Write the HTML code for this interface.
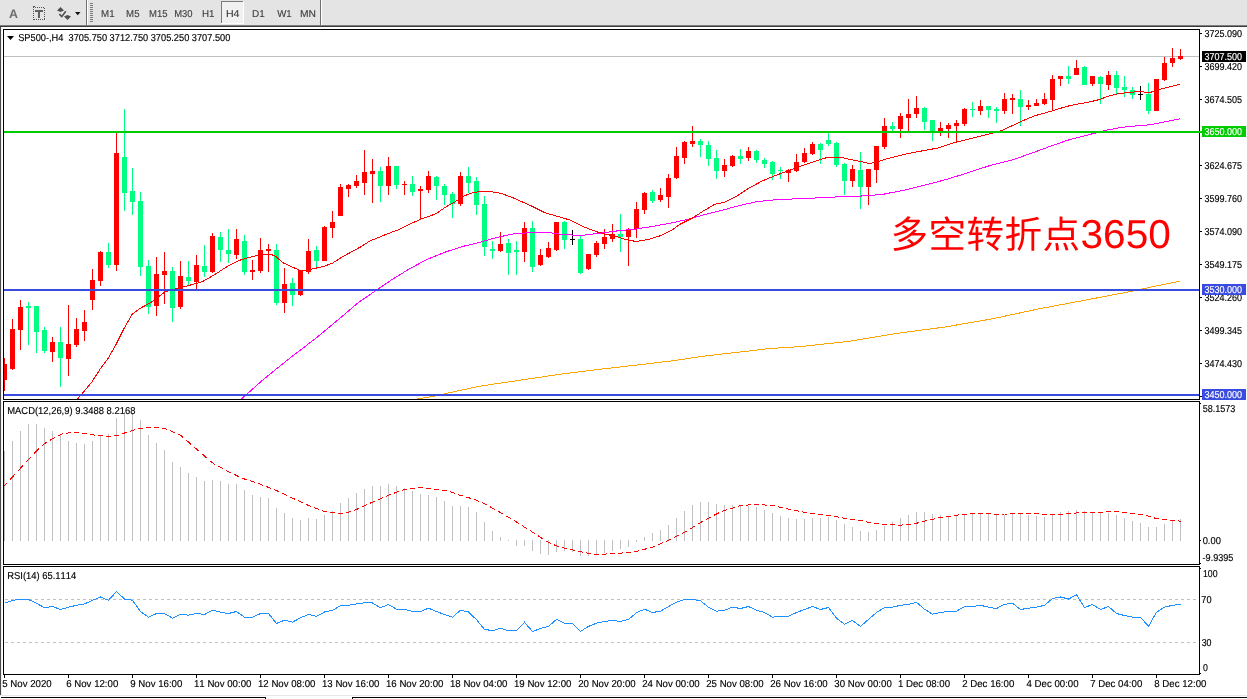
<!DOCTYPE html>
<html><head><meta charset="utf-8"><title>SP500 H4</title>
<style>html,body{margin:0;padding:0;background:#fff;width:1247px;height:699px;overflow:hidden;font-family:"Liberation Sans",sans-serif}svg text{text-rendering:geometricPrecision;font-kerning:none;font-family:"Liberation Sans",sans-serif;white-space:pre}</style>
</head><body><svg width="1247" height="699" viewBox="0 0 1247 699" font-family="Liberation Sans, sans-serif" style="position:absolute;left:0;top:0;will-change:transform"><rect x="0" y="0" width="1247" height="699" fill="#fff"/>
<rect x="0" y="0" width="1247" height="25" fill="#e4e4e4"/>
<rect x="0" y="25" width="1247" height="1" fill="#808080"/>
<rect x="0" y="26" width="1247" height="1" fill="#3a3a3a"/>
<rect x="0" y="27" width="1" height="668" fill="#4a4a4a"/>
<rect x="1" y="27" width="1" height="668" fill="#f0f0f0"/>
<rect x="0" y="695" width="1247" height="1" fill="#e8e8e8"/>
<rect x="1" y="697" width="265" height="1" fill="#000"/>
<rect x="265" y="697" width="1" height="2" fill="#000"/>
<rect x="352" y="697" width="895" height="1" fill="#000"/>
<rect x="352" y="697" width="1" height="2" fill="#000"/>
<text x="8.9" y="18" font-size="12.4" font-weight="bold" fill="#6c6c6c">A</text>
<g shape-rendering="crispEdges">
<rect x="33" y="7" width="1" height="1" fill="#555"/>
<rect x="34" y="19" width="1" height="1" fill="#555"/>
<rect x="35" y="7" width="1" height="1" fill="#555"/>
<rect x="36" y="19" width="1" height="1" fill="#555"/>
<rect x="37" y="7" width="1" height="1" fill="#555"/>
<rect x="38" y="19" width="1" height="1" fill="#555"/>
<rect x="39" y="7" width="1" height="1" fill="#555"/>
<rect x="40" y="19" width="1" height="1" fill="#555"/>
<rect x="41" y="7" width="1" height="1" fill="#555"/>
<rect x="42" y="19" width="1" height="1" fill="#555"/>
<rect x="43" y="7" width="1" height="1" fill="#555"/>
<rect x="44" y="19" width="1" height="1" fill="#555"/>
<rect x="33" y="7" width="1" height="1" fill="#555"/>
<rect x="33" y="9" width="1" height="1" fill="#555"/>
<rect x="33" y="11" width="1" height="1" fill="#555"/>
<rect x="33" y="13" width="1" height="1" fill="#555"/>
<rect x="33" y="15" width="1" height="1" fill="#555"/>
<rect x="33" y="17" width="1" height="1" fill="#555"/>
<rect x="33" y="19" width="1" height="1" fill="#555"/>
<rect x="44" y="8" width="1" height="1" fill="#555"/>
<rect x="44" y="10" width="1" height="1" fill="#555"/>
<rect x="44" y="12" width="1" height="1" fill="#555"/>
<rect x="44" y="14" width="1" height="1" fill="#555"/>
<rect x="44" y="16" width="1" height="1" fill="#555"/>
<rect x="44" y="18" width="1" height="1" fill="#555"/>
<rect x="33" y="6" width="2" height="1" fill="#555"/>
<rect x="35" y="10" width="8" height="2" fill="#606060"/>
<rect x="38" y="10" width="2" height="8" fill="#606060"/>
</g>
<path d="M57 10.5 L60.5 7 L64 10.5 L60.5 12 Z" fill="#505050"/>
<path d="M64 16.5 L67.5 15 L71 16.5 L67.5 20 Z" fill="#505050"/>
<path d="M59.3 14.2 L61.8 16.6 L65.8 11.3" fill="none" stroke="#505050" stroke-width="1.6"/>
<path d="M75 12 L80.5 12 L77.75 15.2 Z" fill="#111"/>
<rect x="86" y="0" width="1" height="25" fill="#6e6e6e"/>
<rect x="87" y="0" width="1" height="25" fill="#fff"/>
<rect x="90" y="3" width="3" height="1" fill="#7a7a7a"/>
<rect x="90" y="5" width="3" height="1" fill="#7a7a7a"/>
<rect x="90" y="7" width="3" height="1" fill="#7a7a7a"/>
<rect x="90" y="9" width="3" height="1" fill="#7a7a7a"/>
<rect x="90" y="11" width="3" height="1" fill="#7a7a7a"/>
<rect x="90" y="13" width="3" height="1" fill="#7a7a7a"/>
<rect x="90" y="15" width="3" height="1" fill="#7a7a7a"/>
<rect x="90" y="17" width="3" height="1" fill="#7a7a7a"/>
<rect x="90" y="19" width="3" height="1" fill="#7a7a7a"/>
<rect x="90" y="21" width="3" height="1" fill="#7a7a7a"/>
<rect x="222" y="2" width="21" height="21" fill="#f1f1f1"/>
<rect x="221" y="1" width="22" height="1" fill="#7a7a7a"/>
<rect x="221" y="1" width="1" height="22" fill="#7a7a7a"/>
<rect x="221" y="23" width="23" height="1" fill="#fff"/>
<rect x="243" y="1" width="1" height="23" fill="#fff"/>
<text transform="translate(101.10,17) scale(0.9696,1)" font-size="10" fill="#3c3c3c" stroke="#3c3c3c" stroke-width="0.12">M1</text>
<text transform="translate(126.11,17) scale(0.9643,1)" font-size="10" fill="#3c3c3c" stroke="#3c3c3c" stroke-width="0.12">M5</text>
<text transform="translate(149.12,17) scale(0.9499,1)" font-size="10" fill="#3c3c3c" stroke="#3c3c3c" stroke-width="0.12">M15</text>
<text transform="translate(174.13,17) scale(0.9429,1)" font-size="10" fill="#3c3c3c" stroke="#3c3c3c" stroke-width="0.12">M30</text>
<text transform="translate(201.90,17) scale(0.9761,1)" font-size="10" fill="#3c3c3c" stroke="#3c3c3c" stroke-width="0.12">H1</text>
<text transform="translate(225.93,17) scale(1.0626,1)" font-size="10" fill="#3c3c3c" stroke="#3c3c3c" stroke-width="0.12">H4</text>
<text transform="translate(251.99,17) scale(0.9935,1)" font-size="10" fill="#3c3c3c" stroke="#3c3c3c" stroke-width="0.12">D1</text>
<text transform="translate(277.16,17) scale(0.9677,1)" font-size="10" fill="#3c3c3c" stroke="#3c3c3c" stroke-width="0.12">W1</text>
<text transform="translate(300.06,17) scale(1.0276,1)" font-size="10" fill="#3c3c3c" stroke="#3c3c3c" stroke-width="0.12">MN</text>
<rect x="320" y="0" width="1" height="25" fill="#6e6e6e"/>
<rect x="321" y="0" width="1" height="25" fill="#fff"/>
<rect x="3" y="29" width="1197" height="1" fill="#000"/>
<rect x="3" y="29" width="1" height="371" fill="#000"/>
<rect x="3" y="399" width="1197" height="1" fill="#000"/>
<rect x="1199" y="29" width="1" height="371" fill="#000"/>
<rect x="3" y="401" width="1197" height="1" fill="#000"/>
<rect x="3" y="401" width="1" height="164" fill="#000"/>
<rect x="3" y="564" width="1197" height="1" fill="#000"/>
<rect x="1199" y="401" width="1" height="164" fill="#000"/>
<rect x="3" y="566" width="1197" height="1" fill="#000"/>
<rect x="3" y="566" width="1" height="109" fill="#000"/>
<rect x="3" y="674" width="1197" height="1" fill="#000"/>
<rect x="1199" y="566" width="1" height="109" fill="#000"/>
<defs><clipPath id="cm"><rect x="4" y="30" width="1195" height="369"/></clipPath></defs>
<g clip-path="url(#cm)" shape-rendering="crispEdges">
<rect x="4" y="56" width="1195" height="1" fill="#c0c0c0"/>
<rect x="4" y="358" width="1" height="33" fill="#ff0000"/>
<rect x="2" y="364" width="5" height="16" fill="#ff0000"/>
<rect x="12" y="319" width="1" height="51" fill="#ff0000"/>
<rect x="10" y="329" width="5" height="40" fill="#ff0000"/>
<rect x="20" y="300" width="1" height="50" fill="#ff0000"/>
<rect x="18" y="307" width="5" height="23" fill="#ff0000"/>
<rect x="28" y="302" width="1" height="43" fill="#00ff80"/>
<rect x="26" y="306" width="5" height="2" fill="#00ff80"/>
<rect x="36" y="306" width="1" height="47" fill="#00ff80"/>
<rect x="34" y="306" width="5" height="26" fill="#00ff80"/>
<rect x="44" y="327" width="1" height="26" fill="#00ff80"/>
<rect x="42" y="330" width="5" height="21" fill="#00ff80"/>
<rect x="52" y="337" width="1" height="25" fill="#ff0000"/>
<rect x="50" y="342" width="5" height="10" fill="#ff0000"/>
<rect x="60" y="327" width="1" height="60" fill="#00ff80"/>
<rect x="58" y="342" width="5" height="16" fill="#00ff80"/>
<rect x="68" y="305" width="1" height="71" fill="#ff0000"/>
<rect x="66" y="344" width="5" height="15" fill="#ff0000"/>
<rect x="76" y="318" width="1" height="29" fill="#ff0000"/>
<rect x="74" y="329" width="5" height="16" fill="#ff0000"/>
<rect x="84" y="310" width="1" height="31" fill="#ff0000"/>
<rect x="82" y="322" width="5" height="9" fill="#ff0000"/>
<rect x="92" y="269" width="1" height="41" fill="#ff0000"/>
<rect x="90" y="280" width="5" height="20" fill="#ff0000"/>
<rect x="100" y="251" width="1" height="35" fill="#ff0000"/>
<rect x="98" y="252" width="5" height="29" fill="#ff0000"/>
<rect x="108" y="243" width="1" height="25" fill="#00ff80"/>
<rect x="106" y="252" width="5" height="13" fill="#00ff80"/>
<rect x="116" y="133" width="1" height="138" fill="#ff0000"/>
<rect x="114" y="153" width="5" height="112" fill="#ff0000"/>
<rect x="124" y="109" width="1" height="102" fill="#00ff80"/>
<rect x="122" y="157" width="5" height="36" fill="#00ff80"/>
<rect x="132" y="168" width="1" height="47" fill="#00ff80"/>
<rect x="130" y="191" width="5" height="11" fill="#00ff80"/>
<rect x="140" y="192" width="1" height="84" fill="#00ff80"/>
<rect x="138" y="201" width="5" height="66" fill="#00ff80"/>
<rect x="148" y="260" width="1" height="54" fill="#00ff80"/>
<rect x="146" y="266" width="5" height="41" fill="#00ff80"/>
<rect x="156" y="257" width="1" height="59" fill="#ff0000"/>
<rect x="154" y="274" width="5" height="32" fill="#ff0000"/>
<rect x="164" y="252" width="1" height="52" fill="#ff0000"/>
<rect x="162" y="271" width="5" height="4" fill="#ff0000"/>
<rect x="172" y="267" width="1" height="55" fill="#00ff80"/>
<rect x="170" y="271" width="5" height="37" fill="#00ff80"/>
<rect x="180" y="261" width="1" height="48" fill="#ff0000"/>
<rect x="178" y="276" width="5" height="31" fill="#ff0000"/>
<rect x="188" y="261" width="1" height="25" fill="#00ff80"/>
<rect x="186" y="277" width="5" height="4" fill="#00ff80"/>
<rect x="196" y="255" width="1" height="34" fill="#ff0000"/>
<rect x="194" y="265" width="5" height="17" fill="#ff0000"/>
<rect x="204" y="245" width="1" height="32" fill="#00ff80"/>
<rect x="202" y="266" width="5" height="6" fill="#00ff80"/>
<rect x="212" y="233" width="1" height="40" fill="#ff0000"/>
<rect x="210" y="236" width="5" height="36" fill="#ff0000"/>
<rect x="220" y="232" width="1" height="30" fill="#00ff80"/>
<rect x="218" y="237" width="5" height="13" fill="#00ff80"/>
<rect x="228" y="229" width="1" height="34" fill="#00ff80"/>
<rect x="226" y="250" width="5" height="4" fill="#00ff80"/>
<rect x="236" y="229" width="1" height="30" fill="#ff0000"/>
<rect x="234" y="239" width="5" height="16" fill="#ff0000"/>
<rect x="244" y="235" width="1" height="40" fill="#00ff80"/>
<rect x="242" y="241" width="5" height="31" fill="#00ff80"/>
<rect x="252" y="260" width="1" height="20" fill="#ff0000"/>
<rect x="250" y="270" width="5" height="2" fill="#ff0000"/>
<rect x="260" y="238" width="1" height="35" fill="#ff0000"/>
<rect x="258" y="250" width="5" height="21" fill="#ff0000"/>
<rect x="268" y="244" width="1" height="28" fill="#ff0000"/>
<rect x="266" y="249" width="5" height="2" fill="#ff0000"/>
<rect x="276" y="244" width="1" height="61" fill="#00ff80"/>
<rect x="274" y="250" width="5" height="53" fill="#00ff80"/>
<rect x="284" y="268" width="1" height="45" fill="#ff0000"/>
<rect x="282" y="284" width="5" height="19" fill="#ff0000"/>
<rect x="292" y="278" width="1" height="28" fill="#00ff80"/>
<rect x="290" y="283" width="5" height="12" fill="#00ff80"/>
<rect x="300" y="270" width="1" height="26" fill="#ff0000"/>
<rect x="298" y="270" width="5" height="25" fill="#ff0000"/>
<rect x="308" y="239" width="1" height="35" fill="#ff0000"/>
<rect x="306" y="251" width="5" height="21" fill="#ff0000"/>
<rect x="316" y="246" width="1" height="22" fill="#00ff80"/>
<rect x="314" y="250" width="5" height="11" fill="#00ff80"/>
<rect x="324" y="226" width="1" height="35" fill="#ff0000"/>
<rect x="322" y="227" width="5" height="34" fill="#ff0000"/>
<rect x="332" y="211" width="1" height="27" fill="#ff0000"/>
<rect x="330" y="222" width="5" height="6" fill="#ff0000"/>
<rect x="340" y="184" width="1" height="32" fill="#ff0000"/>
<rect x="338" y="187" width="5" height="29" fill="#ff0000"/>
<rect x="348" y="184" width="1" height="13" fill="#ff0000"/>
<rect x="346" y="185" width="5" height="4" fill="#ff0000"/>
<rect x="356" y="175" width="1" height="13" fill="#ff0000"/>
<rect x="354" y="181" width="5" height="5" fill="#ff0000"/>
<rect x="364" y="150" width="1" height="45" fill="#ff0000"/>
<rect x="362" y="172" width="5" height="11" fill="#ff0000"/>
<rect x="372" y="159" width="1" height="44" fill="#ff0000"/>
<rect x="370" y="171" width="5" height="3" fill="#ff0000"/>
<rect x="380" y="167" width="1" height="35" fill="#00ff80"/>
<rect x="378" y="171" width="5" height="15" fill="#00ff80"/>
<rect x="388" y="157" width="1" height="38" fill="#ff0000"/>
<rect x="386" y="166" width="5" height="20" fill="#ff0000"/>
<rect x="396" y="166" width="1" height="23" fill="#00ff80"/>
<rect x="394" y="166" width="5" height="19" fill="#00ff80"/>
<rect x="404" y="181" width="1" height="14" fill="#ff0000"/>
<rect x="402" y="184" width="5" height="1" fill="#ff0000"/>
<rect x="412" y="176" width="1" height="20" fill="#00ff80"/>
<rect x="410" y="184" width="5" height="8" fill="#00ff80"/>
<rect x="420" y="186" width="1" height="33" fill="#ff0000"/>
<rect x="418" y="189" width="5" height="2" fill="#ff0000"/>
<rect x="428" y="171" width="1" height="22" fill="#ff0000"/>
<rect x="426" y="176" width="5" height="14" fill="#ff0000"/>
<rect x="436" y="176" width="1" height="24" fill="#00ff80"/>
<rect x="434" y="177" width="5" height="9" fill="#00ff80"/>
<rect x="444" y="184" width="1" height="21" fill="#00ff80"/>
<rect x="442" y="186" width="5" height="9" fill="#00ff80"/>
<rect x="452" y="192" width="1" height="26" fill="#00ff80"/>
<rect x="450" y="194" width="5" height="10" fill="#00ff80"/>
<rect x="460" y="172" width="1" height="34" fill="#ff0000"/>
<rect x="458" y="176" width="5" height="28" fill="#ff0000"/>
<rect x="468" y="167" width="1" height="26" fill="#00ff80"/>
<rect x="466" y="176" width="5" height="7" fill="#00ff80"/>
<rect x="476" y="177" width="1" height="38" fill="#00ff80"/>
<rect x="474" y="181" width="5" height="24" fill="#00ff80"/>
<rect x="484" y="196" width="1" height="60" fill="#00ff80"/>
<rect x="482" y="204" width="5" height="43" fill="#00ff80"/>
<rect x="492" y="241" width="1" height="18" fill="#00ff80"/>
<rect x="490" y="249" width="5" height="2" fill="#00ff80"/>
<rect x="500" y="232" width="1" height="20" fill="#ff0000"/>
<rect x="498" y="244" width="5" height="7" fill="#ff0000"/>
<rect x="508" y="239" width="1" height="36" fill="#00ff80"/>
<rect x="506" y="243" width="5" height="10" fill="#00ff80"/>
<rect x="516" y="241" width="1" height="34" fill="#00ff80"/>
<rect x="514" y="250" width="5" height="2" fill="#00ff80"/>
<rect x="524" y="222" width="1" height="40" fill="#ff0000"/>
<rect x="522" y="228" width="5" height="24" fill="#ff0000"/>
<rect x="532" y="221" width="1" height="51" fill="#00ff80"/>
<rect x="530" y="228" width="5" height="39" fill="#00ff80"/>
<rect x="540" y="249" width="1" height="17" fill="#ff0000"/>
<rect x="538" y="255" width="5" height="10" fill="#ff0000"/>
<rect x="548" y="242" width="1" height="16" fill="#ff0000"/>
<rect x="546" y="248" width="5" height="9" fill="#ff0000"/>
<rect x="556" y="222" width="1" height="29" fill="#ff0000"/>
<rect x="554" y="222" width="5" height="28" fill="#ff0000"/>
<rect x="564" y="221" width="1" height="28" fill="#00ff80"/>
<rect x="562" y="222" width="5" height="18" fill="#00ff80"/>
<rect x="572" y="230" width="1" height="15" fill="#000"/>
<rect x="570" y="239" width="5" height="1" fill="#000"/>
<rect x="580" y="236" width="1" height="38" fill="#00ff80"/>
<rect x="578" y="239" width="5" height="34" fill="#00ff80"/>
<rect x="588" y="254" width="1" height="16" fill="#ff0000"/>
<rect x="586" y="254" width="5" height="15" fill="#ff0000"/>
<rect x="596" y="241" width="1" height="16" fill="#ff0000"/>
<rect x="594" y="243" width="5" height="12" fill="#ff0000"/>
<rect x="604" y="229" width="1" height="20" fill="#ff0000"/>
<rect x="602" y="237" width="5" height="7" fill="#ff0000"/>
<rect x="612" y="224" width="1" height="18" fill="#ff0000"/>
<rect x="610" y="234" width="5" height="5" fill="#ff0000"/>
<rect x="620" y="214" width="1" height="38" fill="#00ff80"/>
<rect x="618" y="234" width="5" height="3" fill="#00ff80"/>
<rect x="628" y="228" width="1" height="38" fill="#ff0000"/>
<rect x="626" y="229" width="5" height="8" fill="#ff0000"/>
<rect x="636" y="202" width="1" height="36" fill="#ff0000"/>
<rect x="634" y="209" width="5" height="20" fill="#ff0000"/>
<rect x="644" y="192" width="1" height="22" fill="#ff0000"/>
<rect x="642" y="193" width="5" height="17" fill="#ff0000"/>
<rect x="652" y="190" width="1" height="13" fill="#00ff80"/>
<rect x="650" y="192" width="5" height="9" fill="#00ff80"/>
<rect x="660" y="188" width="1" height="14" fill="#ff0000"/>
<rect x="658" y="195" width="5" height="5" fill="#ff0000"/>
<rect x="668" y="174" width="1" height="34" fill="#ff0000"/>
<rect x="666" y="178" width="5" height="19" fill="#ff0000"/>
<rect x="676" y="147" width="1" height="32" fill="#ff0000"/>
<rect x="674" y="156" width="5" height="22" fill="#ff0000"/>
<rect x="684" y="141" width="1" height="23" fill="#ff0000"/>
<rect x="682" y="142" width="5" height="16" fill="#ff0000"/>
<rect x="692" y="126" width="1" height="21" fill="#ff0000"/>
<rect x="690" y="141" width="5" height="3" fill="#ff0000"/>
<rect x="700" y="139" width="1" height="18" fill="#00ff80"/>
<rect x="698" y="141" width="5" height="4" fill="#00ff80"/>
<rect x="708" y="141" width="1" height="25" fill="#00ff80"/>
<rect x="706" y="145" width="5" height="14" fill="#00ff80"/>
<rect x="716" y="150" width="1" height="29" fill="#00ff80"/>
<rect x="714" y="158" width="5" height="13" fill="#00ff80"/>
<rect x="724" y="159" width="1" height="18" fill="#ff0000"/>
<rect x="722" y="165" width="5" height="6" fill="#ff0000"/>
<rect x="732" y="155" width="1" height="12" fill="#ff0000"/>
<rect x="730" y="156" width="5" height="10" fill="#ff0000"/>
<rect x="740" y="149" width="1" height="15" fill="#00ff80"/>
<rect x="738" y="156" width="5" height="3" fill="#00ff80"/>
<rect x="748" y="147" width="1" height="14" fill="#ff0000"/>
<rect x="746" y="151" width="5" height="7" fill="#ff0000"/>
<rect x="756" y="150" width="1" height="13" fill="#00ff80"/>
<rect x="754" y="151" width="5" height="9" fill="#00ff80"/>
<rect x="764" y="158" width="1" height="10" fill="#00ff80"/>
<rect x="762" y="160" width="5" height="4" fill="#00ff80"/>
<rect x="772" y="161" width="1" height="19" fill="#00ff80"/>
<rect x="770" y="162" width="5" height="12" fill="#00ff80"/>
<rect x="780" y="167" width="1" height="12" fill="#00ff80"/>
<rect x="778" y="170" width="5" height="1" fill="#00ff80"/>
<rect x="788" y="169" width="1" height="13" fill="#ff0000"/>
<rect x="786" y="170" width="5" height="3" fill="#ff0000"/>
<rect x="796" y="154" width="1" height="18" fill="#ff0000"/>
<rect x="794" y="162" width="5" height="9" fill="#ff0000"/>
<rect x="804" y="148" width="1" height="15" fill="#ff0000"/>
<rect x="802" y="153" width="5" height="9" fill="#ff0000"/>
<rect x="812" y="142" width="1" height="13" fill="#ff0000"/>
<rect x="810" y="144" width="5" height="10" fill="#ff0000"/>
<rect x="820" y="143" width="1" height="21" fill="#00ff80"/>
<rect x="818" y="144" width="5" height="6" fill="#00ff80"/>
<rect x="828" y="133" width="1" height="13" fill="#00ff80"/>
<rect x="826" y="140" width="5" height="4" fill="#00ff80"/>
<rect x="836" y="142" width="1" height="25" fill="#00ff80"/>
<rect x="834" y="143" width="5" height="22" fill="#00ff80"/>
<rect x="844" y="163" width="1" height="32" fill="#00ff80"/>
<rect x="842" y="164" width="5" height="17" fill="#00ff80"/>
<rect x="852" y="165" width="1" height="22" fill="#ff0000"/>
<rect x="850" y="169" width="5" height="12" fill="#ff0000"/>
<rect x="860" y="152" width="1" height="57" fill="#00ff80"/>
<rect x="858" y="170" width="5" height="17" fill="#00ff80"/>
<rect x="868" y="169" width="1" height="36" fill="#ff0000"/>
<rect x="866" y="169" width="5" height="18" fill="#ff0000"/>
<rect x="876" y="146" width="1" height="37" fill="#ff0000"/>
<rect x="874" y="146" width="5" height="24" fill="#ff0000"/>
<rect x="884" y="118" width="1" height="31" fill="#ff0000"/>
<rect x="882" y="126" width="5" height="21" fill="#ff0000"/>
<rect x="892" y="122" width="1" height="9" fill="#00ff80"/>
<rect x="890" y="126" width="5" height="3" fill="#00ff80"/>
<rect x="900" y="113" width="1" height="25" fill="#ff0000"/>
<rect x="898" y="116" width="5" height="13" fill="#ff0000"/>
<rect x="908" y="99" width="1" height="32" fill="#ff0000"/>
<rect x="906" y="114" width="5" height="4" fill="#ff0000"/>
<rect x="916" y="96" width="1" height="22" fill="#ff0000"/>
<rect x="914" y="108" width="5" height="6" fill="#ff0000"/>
<rect x="924" y="107" width="1" height="23" fill="#00ff80"/>
<rect x="922" y="108" width="5" height="14" fill="#00ff80"/>
<rect x="932" y="120" width="1" height="21" fill="#00ff80"/>
<rect x="930" y="120" width="5" height="11" fill="#00ff80"/>
<rect x="940" y="122" width="1" height="14" fill="#ff0000"/>
<rect x="938" y="128" width="5" height="3" fill="#ff0000"/>
<rect x="948" y="123" width="1" height="15" fill="#ff0000"/>
<rect x="946" y="125" width="5" height="4" fill="#ff0000"/>
<rect x="956" y="120" width="1" height="22" fill="#ff0000"/>
<rect x="954" y="123" width="5" height="3" fill="#ff0000"/>
<rect x="964" y="108" width="1" height="18" fill="#ff0000"/>
<rect x="962" y="109" width="5" height="15" fill="#ff0000"/>
<rect x="972" y="102" width="1" height="15" fill="#00ff80"/>
<rect x="970" y="109" width="5" height="1" fill="#00ff80"/>
<rect x="980" y="100" width="1" height="15" fill="#ff0000"/>
<rect x="978" y="106" width="5" height="5" fill="#ff0000"/>
<rect x="988" y="106" width="1" height="12" fill="#00ff80"/>
<rect x="986" y="106" width="5" height="4" fill="#00ff80"/>
<rect x="996" y="107" width="1" height="16" fill="#00ff80"/>
<rect x="994" y="109" width="5" height="2" fill="#00ff80"/>
<rect x="1004" y="93" width="1" height="21" fill="#ff0000"/>
<rect x="1002" y="99" width="5" height="12" fill="#ff0000"/>
<rect x="1012" y="94" width="1" height="20" fill="#ff0000"/>
<rect x="1010" y="98" width="5" height="2" fill="#ff0000"/>
<rect x="1020" y="90" width="1" height="36" fill="#00ff80"/>
<rect x="1018" y="99" width="5" height="8" fill="#00ff80"/>
<rect x="1028" y="100" width="1" height="10" fill="#ff0000"/>
<rect x="1026" y="105" width="5" height="2" fill="#ff0000"/>
<rect x="1036" y="99" width="1" height="7" fill="#ff0000"/>
<rect x="1034" y="103" width="5" height="3" fill="#ff0000"/>
<rect x="1044" y="93" width="1" height="12" fill="#ff0000"/>
<rect x="1042" y="99" width="5" height="5" fill="#ff0000"/>
<rect x="1052" y="75" width="1" height="35" fill="#ff0000"/>
<rect x="1050" y="79" width="5" height="21" fill="#ff0000"/>
<rect x="1060" y="76" width="1" height="10" fill="#ff0000"/>
<rect x="1058" y="76" width="5" height="3" fill="#ff0000"/>
<rect x="1068" y="66" width="1" height="18" fill="#00ff80"/>
<rect x="1066" y="76" width="5" height="3" fill="#00ff80"/>
<rect x="1076" y="60" width="1" height="15" fill="#ff0000"/>
<rect x="1074" y="68" width="5" height="7" fill="#ff0000"/>
<rect x="1084" y="66" width="1" height="19" fill="#00ff80"/>
<rect x="1082" y="67" width="5" height="18" fill="#00ff80"/>
<rect x="1092" y="76" width="1" height="10" fill="#ff0000"/>
<rect x="1090" y="76" width="5" height="8" fill="#ff0000"/>
<rect x="1100" y="76" width="1" height="28" fill="#00ff80"/>
<rect x="1098" y="77" width="5" height="7" fill="#00ff80"/>
<rect x="1108" y="71" width="1" height="19" fill="#ff0000"/>
<rect x="1106" y="75" width="5" height="10" fill="#ff0000"/>
<rect x="1116" y="71" width="1" height="23" fill="#00ff80"/>
<rect x="1114" y="75" width="5" height="13" fill="#00ff80"/>
<rect x="1124" y="76" width="1" height="21" fill="#00ff80"/>
<rect x="1122" y="87" width="5" height="3" fill="#00ff80"/>
<rect x="1132" y="87" width="1" height="12" fill="#00ff80"/>
<rect x="1130" y="90" width="5" height="5" fill="#00ff80"/>
<rect x="1140" y="86" width="1" height="14" fill="#000"/>
<rect x="1138" y="94" width="5" height="1" fill="#000"/>
<rect x="1148" y="83" width="1" height="31" fill="#00ff80"/>
<rect x="1146" y="94" width="5" height="17" fill="#00ff80"/>
<rect x="1156" y="79" width="1" height="32" fill="#ff0000"/>
<rect x="1154" y="79" width="5" height="32" fill="#ff0000"/>
<rect x="1164" y="57" width="1" height="24" fill="#ff0000"/>
<rect x="1162" y="63" width="5" height="17" fill="#ff0000"/>
<rect x="1172" y="48" width="1" height="19" fill="#ff0000"/>
<rect x="1170" y="58" width="5" height="5" fill="#ff0000"/>
<rect x="1180" y="49" width="1" height="11" fill="#ff0000"/>
<rect x="1178" y="56" width="5" height="3" fill="#ff0000"/>
<polyline points="416.0,399.2 434.2,396.2 448.1,393.0 480.2,386.1 528.3,379.0 560.4,374.2 598.9,369.4 640.6,364.6 672.7,360.8 704.7,356.0 736.8,352.4 768.9,348.6 800.0,346.6 848.1,341.5 896.2,333.5 944.3,327.1 992.5,318.8 1040.6,308.5 1088.7,299.5 1133.6,290.9 1152.8,286.7 1180.1,281.2" fill="none" stroke="#ffa500" stroke-width="1"/>
<polyline points="241.0,399.0 242.0,398.4 264.3,378.7 290.0,358.0 315.8,338.3 341.5,316.9 358.7,302.3 375.9,290.6 391.3,280.0 410.0,268.5 427.3,259.3 444.4,252.4 461.6,246.7 478.8,242.6 497.2,237.3 514.3,233.8 531.5,232.5 548.6,232.6 565.8,234.9 583.0,235.2 600.0,233.2 617.3,230.9 634.5,229.2 651.6,226.6 668.8,223.5 687.2,219.5 704.3,214.7 721.5,210.4 738.6,205.8 755.8,201.8 776.4,199.6 807.3,198.4 841.6,196.7 867.4,195.8 884.0,194.1 905.0,190.0 925.0,185.0 947.2,179.3 966.1,173.3 990.1,165.5 1012.4,159.9 1033.0,152.7 1050.2,146.3 1067.4,140.3 1084.0,136.0 1090.0,134.4 1107.2,130.0 1122.9,127.2 1137.2,125.8 1151.5,124.6 1163.0,122.2 1179.8,118.8" fill="none" stroke="#ff00ff" stroke-width="1"/>
<polyline points="77.5,399.0 84.0,391.5 92.0,381.7 100.0,369.3 108.0,358.6 116.0,344.6 124.0,328.5 132.0,314.5 140.0,308.5 152.6,301.4 164.7,292.0 176.7,288.5 187.0,286.0 202.4,281.7 214.4,274.8 226.4,267.0 238.5,260.6 248.8,257.6 259.0,255.0 268.5,254.2 274.5,255.4 283.0,262.8 292.6,267.2 301.2,271.0 308.9,269.8 316.6,268.0 325.2,265.9 332.9,262.9 342.3,256.9 352.6,251.3 361.2,246.6 369.8,241.0 378.4,237.6 386.0,234.4 399.8,229.2 410.0,224.0 420.4,219.3 435.9,213.8 444.4,207.8 454.7,202.0 463.3,196.3 471.9,192.9 482.2,191.1 492.5,192.0 500.6,193.2 514.3,198.3 531.5,206.0 545.2,212.9 557.2,216.3 569.2,219.8 583.0,226.6 596.7,231.8 607.0,234.4 617.3,236.9 625.9,239.5 634.5,241.2 641.3,240.9 651.6,238.6 661.9,235.2 672.2,230.0 680.3,224.1 692.3,218.1 704.3,210.4 714.6,204.4 724.9,202.2 738.6,195.0 748.9,188.1 762.7,180.7 776.4,175.2 790.1,170.1 803.9,164.9 817.6,160.6 827.9,157.2 839.9,157.2 851.9,159.8 860.5,161.5 869.1,163.5 875.9,162.3 887.2,158.7 904.3,154.4 921.5,151.0 938.6,147.9 950.7,143.7 966.1,139.8 979.8,136.4 993.6,132.9 1002.1,130.4 1012.4,125.6 1024.5,120.0 1034.8,115.8 1045.0,112.9 1055.3,110.0 1065.6,106.7 1075.9,104.3 1088.6,102.2 1100.0,99.4 1107.2,96.5 1117.2,93.9 1128.6,92.5 1140.0,91.5 1148.7,92.5 1154.4,91.5 1160.0,89.3 1168.7,87.2 1179.8,84.3" fill="none" stroke="#ff0000" stroke-width="1"/>
</g>
<rect x="4" y="131" width="1198" height="2" fill="#00cc00"/>
<rect x="4" y="289" width="1195" height="2" fill="#3a4be0"/>
<rect x="4" y="394" width="1195" height="2" fill="#3a4be0"/>
<g shape-rendering="crispEdges">
<rect x="1200" y="33" width="2" height="1" fill="#000"/>
<rect x="1200" y="66" width="2" height="1" fill="#000"/>
<rect x="1200" y="99" width="2" height="1" fill="#000"/>
<rect x="1200" y="165" width="2" height="1" fill="#000"/>
<rect x="1200" y="198" width="2" height="1" fill="#000"/>
<rect x="1200" y="231" width="2" height="1" fill="#000"/>
<rect x="1200" y="264" width="2" height="1" fill="#000"/>
<rect x="1200" y="297" width="2" height="1" fill="#000"/>
<rect x="1200" y="330" width="2" height="1" fill="#000"/>
<rect x="1200" y="363" width="2" height="1" fill="#000"/>
<rect x="1200" y="396" width="2" height="1" fill="#000"/>
</g>
<text transform="translate(1204.46,37) scale(0.9014,1)" font-size="10" fill="#000" stroke="#000" stroke-width="0.15">3725.090</text>
<text transform="translate(1204.46,70) scale(0.9014,1)" font-size="10" fill="#000" stroke="#000" stroke-width="0.15">3699.420</text>
<text transform="translate(1204.46,103) scale(0.9020,1)" font-size="10" fill="#000" stroke="#000" stroke-width="0.15">3674.505</text>
<text transform="translate(1204.46,169) scale(0.9020,1)" font-size="10" fill="#000" stroke="#000" stroke-width="0.15">3624.675</text>
<text transform="translate(1204.46,202) scale(0.9014,1)" font-size="10" fill="#000" stroke="#000" stroke-width="0.15">3599.760</text>
<text transform="translate(1204.46,235) scale(0.9014,1)" font-size="10" fill="#000" stroke="#000" stroke-width="0.15">3574.090</text>
<text transform="translate(1204.46,268) scale(0.9020,1)" font-size="10" fill="#000" stroke="#000" stroke-width="0.15">3549.175</text>
<text transform="translate(1204.46,301) scale(0.9014,1)" font-size="10" fill="#000" stroke="#000" stroke-width="0.15">3524.260</text>
<text transform="translate(1204.46,334) scale(0.9020,1)" font-size="10" fill="#000" stroke="#000" stroke-width="0.15">3499.345</text>
<text transform="translate(1204.46,367) scale(0.9014,1)" font-size="10" fill="#000" stroke="#000" stroke-width="0.15">3474.430</text>
<rect x="1202" y="284" width="44" height="11" fill="#3a4be0"/>
<text transform="translate(1204.46,293) scale(0.9014,1)" font-size="10" fill="#fff" stroke="#fff" stroke-width="0.15">3530.000</text>
<rect x="1202" y="389" width="44" height="11" fill="#3a4be0"/>
<text transform="translate(1204.46,398) scale(0.9014,1)" font-size="10" fill="#fff" stroke="#fff" stroke-width="0.15">3450.000</text>
<rect x="1202" y="126" width="44" height="11" fill="#00cc00"/>
<text transform="translate(1204.46,135) scale(0.9014,1)" font-size="10" fill="#fff" stroke="#fff" stroke-width="0.15">3650.000</text>
<rect x="1202" y="51" width="44" height="11" fill="#000"/>
<text transform="translate(1204.46,60) scale(0.9014,1)" font-size="10" fill="#fff" stroke="#fff" stroke-width="0.15">3707.500</text>
<path d="M7 36 L14 36 L10.5 40 Z" fill="#000"/>
<text transform="translate(18.18,41) scale(0.9240,1)" font-size="10" fill="#000" stroke="#000" stroke-width="0.15">SP500-,H4  3705.750 3712.750 3705.250 3707.500</text>
<g shape-rendering="crispEdges">
<rect x="4" y="451" width="1" height="90" fill="#c0c0c0"/>
<rect x="12" y="441" width="1" height="100" fill="#c0c0c0"/>
<rect x="20" y="431" width="1" height="110" fill="#c0c0c0"/>
<rect x="28" y="424" width="1" height="117" fill="#c0c0c0"/>
<rect x="36" y="424" width="1" height="117" fill="#c0c0c0"/>
<rect x="44" y="428" width="1" height="113" fill="#c0c0c0"/>
<rect x="52" y="431" width="1" height="110" fill="#c0c0c0"/>
<rect x="60" y="435" width="1" height="106" fill="#c0c0c0"/>
<rect x="68" y="441" width="1" height="100" fill="#c0c0c0"/>
<rect x="76" y="443" width="1" height="98" fill="#c0c0c0"/>
<rect x="84" y="444" width="1" height="97" fill="#c0c0c0"/>
<rect x="92" y="441" width="1" height="100" fill="#c0c0c0"/>
<rect x="100" y="436" width="1" height="105" fill="#c0c0c0"/>
<rect x="108" y="434" width="1" height="107" fill="#c0c0c0"/>
<rect x="116" y="418" width="1" height="123" fill="#c0c0c0"/>
<rect x="124" y="412" width="1" height="129" fill="#c0c0c0"/>
<rect x="132" y="413" width="1" height="128" fill="#c0c0c0"/>
<rect x="140" y="420" width="1" height="121" fill="#c0c0c0"/>
<rect x="148" y="435" width="1" height="106" fill="#c0c0c0"/>
<rect x="156" y="443" width="1" height="98" fill="#c0c0c0"/>
<rect x="164" y="450" width="1" height="91" fill="#c0c0c0"/>
<rect x="172" y="462" width="1" height="79" fill="#c0c0c0"/>
<rect x="180" y="467" width="1" height="74" fill="#c0c0c0"/>
<rect x="188" y="473" width="1" height="68" fill="#c0c0c0"/>
<rect x="196" y="477" width="1" height="64" fill="#c0c0c0"/>
<rect x="204" y="481" width="1" height="60" fill="#c0c0c0"/>
<rect x="212" y="480" width="1" height="61" fill="#c0c0c0"/>
<rect x="220" y="481" width="1" height="60" fill="#c0c0c0"/>
<rect x="228" y="484" width="1" height="57" fill="#c0c0c0"/>
<rect x="236" y="484" width="1" height="57" fill="#c0c0c0"/>
<rect x="244" y="490" width="1" height="51" fill="#c0c0c0"/>
<rect x="252" y="495" width="1" height="46" fill="#c0c0c0"/>
<rect x="260" y="497" width="1" height="44" fill="#c0c0c0"/>
<rect x="268" y="498" width="1" height="43" fill="#c0c0c0"/>
<rect x="276" y="508" width="1" height="33" fill="#c0c0c0"/>
<rect x="284" y="513" width="1" height="28" fill="#c0c0c0"/>
<rect x="292" y="518" width="1" height="23" fill="#c0c0c0"/>
<rect x="300" y="520" width="1" height="21" fill="#c0c0c0"/>
<rect x="308" y="518" width="1" height="23" fill="#c0c0c0"/>
<rect x="316" y="519" width="1" height="22" fill="#c0c0c0"/>
<rect x="324" y="515" width="1" height="26" fill="#c0c0c0"/>
<rect x="332" y="511" width="1" height="30" fill="#c0c0c0"/>
<rect x="340" y="503" width="1" height="38" fill="#c0c0c0"/>
<rect x="348" y="498" width="1" height="43" fill="#c0c0c0"/>
<rect x="356" y="493" width="1" height="48" fill="#c0c0c0"/>
<rect x="364" y="489" width="1" height="52" fill="#c0c0c0"/>
<rect x="372" y="486" width="1" height="55" fill="#c0c0c0"/>
<rect x="380" y="486" width="1" height="55" fill="#c0c0c0"/>
<rect x="388" y="484" width="1" height="57" fill="#c0c0c0"/>
<rect x="396" y="486" width="1" height="55" fill="#c0c0c0"/>
<rect x="404" y="488" width="1" height="53" fill="#c0c0c0"/>
<rect x="412" y="491" width="1" height="50" fill="#c0c0c0"/>
<rect x="420" y="494" width="1" height="47" fill="#c0c0c0"/>
<rect x="428" y="495" width="1" height="46" fill="#c0c0c0"/>
<rect x="436" y="497" width="1" height="44" fill="#c0c0c0"/>
<rect x="444" y="501" width="1" height="40" fill="#c0c0c0"/>
<rect x="452" y="506" width="1" height="35" fill="#c0c0c0"/>
<rect x="460" y="506" width="1" height="35" fill="#c0c0c0"/>
<rect x="468" y="507" width="1" height="34" fill="#c0c0c0"/>
<rect x="476" y="512" width="1" height="29" fill="#c0c0c0"/>
<rect x="484" y="522" width="1" height="19" fill="#c0c0c0"/>
<rect x="492" y="531" width="1" height="10" fill="#c0c0c0"/>
<rect x="500" y="537" width="1" height="4" fill="#c0c0c0"/>
<rect x="508" y="540" width="1" height="1" fill="#c0c0c0"/>
<rect x="516" y="540" width="1" height="6" fill="#c0c0c0"/>
<rect x="524" y="540" width="1" height="6" fill="#c0c0c0"/>
<rect x="532" y="540" width="1" height="11" fill="#c0c0c0"/>
<rect x="540" y="540" width="1" height="14" fill="#c0c0c0"/>
<rect x="548" y="540" width="1" height="15" fill="#c0c0c0"/>
<rect x="556" y="540" width="1" height="12" fill="#c0c0c0"/>
<rect x="564" y="540" width="1" height="11" fill="#c0c0c0"/>
<rect x="572" y="540" width="1" height="12" fill="#c0c0c0"/>
<rect x="580" y="540" width="1" height="16" fill="#c0c0c0"/>
<rect x="588" y="540" width="1" height="16" fill="#c0c0c0"/>
<rect x="596" y="540" width="1" height="14" fill="#c0c0c0"/>
<rect x="604" y="540" width="1" height="13" fill="#c0c0c0"/>
<rect x="612" y="540" width="1" height="11" fill="#c0c0c0"/>
<rect x="620" y="540" width="1" height="9" fill="#c0c0c0"/>
<rect x="628" y="540" width="1" height="7" fill="#c0c0c0"/>
<rect x="636" y="540" width="1" height="2" fill="#c0c0c0"/>
<rect x="644" y="537" width="1" height="4" fill="#c0c0c0"/>
<rect x="652" y="533" width="1" height="8" fill="#c0c0c0"/>
<rect x="660" y="530" width="1" height="11" fill="#c0c0c0"/>
<rect x="668" y="525" width="1" height="16" fill="#c0c0c0"/>
<rect x="676" y="518" width="1" height="23" fill="#c0c0c0"/>
<rect x="684" y="511" width="1" height="30" fill="#c0c0c0"/>
<rect x="692" y="505" width="1" height="36" fill="#c0c0c0"/>
<rect x="700" y="502" width="1" height="39" fill="#c0c0c0"/>
<rect x="708" y="502" width="1" height="39" fill="#c0c0c0"/>
<rect x="716" y="504" width="1" height="37" fill="#c0c0c0"/>
<rect x="724" y="505" width="1" height="36" fill="#c0c0c0"/>
<rect x="732" y="505" width="1" height="36" fill="#c0c0c0"/>
<rect x="740" y="506" width="1" height="35" fill="#c0c0c0"/>
<rect x="748" y="506" width="1" height="35" fill="#c0c0c0"/>
<rect x="756" y="507" width="1" height="34" fill="#c0c0c0"/>
<rect x="764" y="510" width="1" height="31" fill="#c0c0c0"/>
<rect x="772" y="513" width="1" height="28" fill="#c0c0c0"/>
<rect x="780" y="516" width="1" height="25" fill="#c0c0c0"/>
<rect x="788" y="518" width="1" height="23" fill="#c0c0c0"/>
<rect x="796" y="519" width="1" height="22" fill="#c0c0c0"/>
<rect x="804" y="519" width="1" height="22" fill="#c0c0c0"/>
<rect x="812" y="518" width="1" height="23" fill="#c0c0c0"/>
<rect x="820" y="518" width="1" height="23" fill="#c0c0c0"/>
<rect x="828" y="517" width="1" height="24" fill="#c0c0c0"/>
<rect x="836" y="520" width="1" height="21" fill="#c0c0c0"/>
<rect x="844" y="524" width="1" height="17" fill="#c0c0c0"/>
<rect x="852" y="527" width="1" height="14" fill="#c0c0c0"/>
<rect x="860" y="531" width="1" height="10" fill="#c0c0c0"/>
<rect x="868" y="532" width="1" height="9" fill="#c0c0c0"/>
<rect x="876" y="530" width="1" height="11" fill="#c0c0c0"/>
<rect x="884" y="526" width="1" height="15" fill="#c0c0c0"/>
<rect x="892" y="522" width="1" height="19" fill="#c0c0c0"/>
<rect x="900" y="518" width="1" height="23" fill="#c0c0c0"/>
<rect x="908" y="515" width="1" height="26" fill="#c0c0c0"/>
<rect x="916" y="512" width="1" height="29" fill="#c0c0c0"/>
<rect x="924" y="512" width="1" height="29" fill="#c0c0c0"/>
<rect x="932" y="514" width="1" height="27" fill="#c0c0c0"/>
<rect x="940" y="515" width="1" height="26" fill="#c0c0c0"/>
<rect x="948" y="516" width="1" height="25" fill="#c0c0c0"/>
<rect x="956" y="515" width="1" height="26" fill="#c0c0c0"/>
<rect x="964" y="514" width="1" height="27" fill="#c0c0c0"/>
<rect x="972" y="514" width="1" height="27" fill="#c0c0c0"/>
<rect x="980" y="514" width="1" height="27" fill="#c0c0c0"/>
<rect x="988" y="514" width="1" height="27" fill="#c0c0c0"/>
<rect x="996" y="515" width="1" height="26" fill="#c0c0c0"/>
<rect x="1004" y="515" width="1" height="26" fill="#c0c0c0"/>
<rect x="1012" y="514" width="1" height="27" fill="#c0c0c0"/>
<rect x="1020" y="514" width="1" height="27" fill="#c0c0c0"/>
<rect x="1028" y="515" width="1" height="26" fill="#c0c0c0"/>
<rect x="1036" y="516" width="1" height="25" fill="#c0c0c0"/>
<rect x="1044" y="517" width="1" height="24" fill="#c0c0c0"/>
<rect x="1052" y="514" width="1" height="27" fill="#c0c0c0"/>
<rect x="1060" y="512" width="1" height="29" fill="#c0c0c0"/>
<rect x="1068" y="511" width="1" height="30" fill="#c0c0c0"/>
<rect x="1076" y="510" width="1" height="31" fill="#c0c0c0"/>
<rect x="1084" y="511" width="1" height="30" fill="#c0c0c0"/>
<rect x="1092" y="512" width="1" height="29" fill="#c0c0c0"/>
<rect x="1100" y="513" width="1" height="28" fill="#c0c0c0"/>
<rect x="1108" y="513" width="1" height="28" fill="#c0c0c0"/>
<rect x="1116" y="515" width="1" height="26" fill="#c0c0c0"/>
<rect x="1124" y="518" width="1" height="23" fill="#c0c0c0"/>
<rect x="1132" y="521" width="1" height="20" fill="#c0c0c0"/>
<rect x="1140" y="523" width="1" height="18" fill="#c0c0c0"/>
<rect x="1148" y="527" width="1" height="14" fill="#c0c0c0"/>
<rect x="1156" y="527" width="1" height="14" fill="#c0c0c0"/>
<rect x="1164" y="524" width="1" height="17" fill="#c0c0c0"/>
<rect x="1172" y="521" width="1" height="20" fill="#c0c0c0"/>
<rect x="1180" y="519" width="1" height="22" fill="#c0c0c0"/>
</g>
<path d="M4.0 486.0L4.5 485.5L7.0 482.8M10.0 479.6L12.5 476.9L15.0 474.2M18.0 470.9L20.5 468.2L23.0 465.5M26.0 462.3L28.5 459.6L31.0 456.9M34.0 453.7L36.5 451.0L39.0 448.7M42.0 446.0L44.5 443.8L47.0 442.1M50.0 440.3L52.5 438.8L55.0 437.6M58.0 436.1L60.5 434.9L63.0 433.7M66.0 433.3L68.5 432.9L71.0 432.6M74.0 432.3L76.5 432.3L79.0 432.7M82.0 433.1L84.5 433.5L87.0 433.9M90.0 434.4L92.5 434.8L95.0 435.1M98.0 435.5L100.5 435.7L103.0 436.0M106.0 436.4L108.5 436.4L111.0 436.2M114.0 435.9L116.5 435.7L119.0 434.9M122.0 433.9L124.5 433.0L127.0 432.2M130.0 431.2L132.5 430.4L135.0 429.8M138.0 429.0L140.5 428.3L143.0 428.1M146.0 428.0L148.5 427.8L151.0 427.7M154.0 427.6L156.5 427.6L159.0 427.9M162.0 428.3L164.5 428.6L167.0 429.4M170.0 430.6L172.5 431.7L175.0 432.7M178.0 434.0L180.5 435.2L183.0 437.4M186.0 440.0L188.5 442.1L191.0 444.3M194.0 446.9L196.5 449.0L199.0 451.2M202.0 453.8L204.5 456.0L207.0 458.2M210.0 460.8L212.5 462.9L215.0 464.4M218.0 466.0L220.5 467.3L223.0 468.7M226.0 470.3L228.5 471.6L231.0 472.8M234.0 474.3L236.5 475.5L239.0 476.7M242.0 478.1L244.5 479.0L247.0 479.8M250.0 480.8L252.5 481.6L255.0 482.4M258.0 483.4L260.5 484.3L263.0 485.3M266.0 486.4L268.5 487.4L271.0 488.4M274.0 489.5L276.5 490.5L279.0 491.7M282.0 493.1L284.5 494.3L287.0 495.5M290.0 496.9L292.5 498.1L295.0 499.2M298.0 500.6L300.5 501.8L303.0 502.9M306.0 504.3L308.5 505.5L311.0 506.4M314.0 507.6L316.5 508.5L319.0 509.5M322.0 510.7L324.5 511.5L327.0 511.8M330.0 512.1L332.5 512.4L335.0 512.7M338.0 513.1L340.5 513.2L343.0 513.0M346.0 512.6L348.5 512.3L351.0 511.4M354.0 510.4L356.5 509.5L359.0 508.3M362.0 507.0L364.5 505.8L367.0 504.6M370.0 503.3L372.5 502.1L375.0 501.0M378.0 499.7L380.5 498.7L383.0 497.6M386.0 496.3L388.5 495.2L391.0 494.3M394.0 493.2L396.5 492.3L399.0 491.4M402.0 490.3L404.5 489.5L407.0 489.1M410.0 488.8L412.5 488.4L415.0 488.1M418.0 487.8L420.5 487.6L423.0 487.9M426.0 488.2L428.5 488.5L431.0 488.9M434.0 489.2L436.5 489.5L439.0 489.7M442.0 490.0L444.5 490.3L447.0 490.6M450.0 491.7L452.5 492.6L455.0 493.5M458.0 494.5L460.5 495.4L463.0 496.1M466.0 497.0L468.5 497.7L471.0 498.5M474.0 499.4L476.5 500.3L479.0 501.3M482.0 502.4L484.5 503.7L487.0 505.1M490.0 506.7L492.5 508.1L495.0 509.5M498.0 511.1L500.5 512.5L503.0 514.0M506.0 515.8L508.5 517.2L511.0 518.7M514.0 520.5L516.5 522.0L519.0 523.6M522.0 525.5L524.5 527.1L527.0 528.6M530.0 530.5L532.5 532.1L535.0 533.8M538.0 535.7L540.5 537.3L543.0 539.0M546.0 540.9L548.5 542.5L551.0 543.5M554.0 544.8L556.5 545.9L559.0 546.6M562.0 547.4L564.5 548.1L567.0 548.7M570.0 549.4L572.5 549.9L575.0 550.5M578.0 551.1L580.5 551.7L583.0 552.2M586.0 552.8L588.5 553.2L591.0 553.6M594.0 554.0L596.5 554.4L599.0 554.3M602.0 554.2L604.5 554.1L607.0 553.9M610.0 553.8L612.5 553.7L615.0 553.5M618.0 553.3L620.5 553.1L623.0 552.9M626.0 552.7L628.5 552.5L631.0 552.1M634.0 551.7L636.5 551.4L639.0 550.7M642.0 549.9L644.5 549.3L647.0 548.6M650.0 547.8L652.5 547.2L655.0 546.1M658.0 544.8L660.5 543.7L663.0 542.7M666.0 541.4L668.5 540.3L671.0 539.1M674.0 537.6L676.5 536.4L679.0 535.1M682.0 533.6L684.5 532.4L687.0 530.8M690.0 529.0L692.5 527.5L695.0 525.9M698.0 524.1L700.5 522.6L703.0 521.2M706.0 519.6L708.5 518.3L711.0 516.9M714.0 515.3L716.5 514.0L719.0 512.8M722.0 511.3L724.5 510.5L727.0 509.7M730.0 508.9L732.5 508.1L735.0 507.2M738.0 506.2L740.5 505.4L743.0 505.2M746.0 505.1L748.5 505.0L751.0 504.8M754.0 504.7L756.5 504.6L759.0 504.7M762.0 504.8L764.5 505.0L767.0 505.1M770.0 505.2L772.5 505.4L775.0 506.0M778.0 506.8L780.5 507.4L783.0 507.9M786.0 508.6L788.5 509.1L791.0 509.6M794.0 510.2L796.5 510.7L799.0 511.2M802.0 511.8L804.5 512.3L807.0 512.6M810.0 513.0L812.5 513.4L815.0 513.7M818.0 514.1L820.5 514.4L823.0 514.8M826.0 515.2L828.5 515.5L831.0 515.9M834.0 516.3L836.5 516.7L839.0 517.2M842.0 517.8L844.5 518.3L847.0 518.6M850.0 519.0L852.5 519.3L855.0 519.6M858.0 520.0L860.5 520.3L863.0 520.9M866.0 521.7L868.5 522.3L871.0 522.7M874.0 523.1L876.5 523.4L879.0 523.8M882.0 524.2L884.5 524.5L887.0 524.6M890.0 524.8L892.5 524.9L895.0 525.0M898.0 525.1L900.5 525.1L903.0 524.9M906.0 524.6L908.5 524.3L911.0 524.0M914.0 523.7L916.5 523.3L919.0 522.6M922.0 521.7L924.5 521.1L927.0 520.5M930.0 519.8L932.5 519.3L935.0 518.7M938.0 518.0L940.5 517.4L943.0 517.1M946.0 516.8L948.5 516.4L951.0 516.1M954.0 515.7L956.5 515.4L959.0 514.9M962.0 514.4L964.5 514.1L967.0 514.0M970.0 513.8L972.5 513.6L975.0 513.6M978.0 513.6L980.5 513.6L983.0 513.6M986.0 513.6L988.5 513.6L991.0 513.8M994.0 514.1L996.5 514.3L999.0 514.2M1002.0 514.1L1004.5 514.0L1007.0 514.0M1010.0 513.9L1012.5 513.8L1015.0 513.7M1018.0 513.6L1020.5 513.5L1023.0 513.5M1026.0 513.4L1028.5 513.3L1031.0 513.5M1034.0 513.6L1036.5 513.8L1039.0 513.9M1042.0 514.1L1044.5 514.3L1047.0 514.3M1050.0 514.3L1052.5 514.3L1055.0 514.3M1058.0 514.3L1060.5 514.2L1063.0 514.0M1066.0 513.8L1068.5 513.6L1071.0 513.4M1074.0 513.2L1076.5 513.0L1079.0 512.8M1082.0 512.6L1084.5 512.4L1087.0 512.4M1090.0 512.4L1092.5 512.4L1095.0 512.4M1098.0 512.4L1100.5 512.4L1103.0 512.1M1106.0 511.7L1108.5 511.4L1111.0 511.4M1114.0 511.4L1116.5 511.4L1119.0 511.6M1122.0 512.0L1124.5 512.3L1127.0 512.6M1130.0 513.0L1132.5 513.3L1135.0 513.6M1138.0 514.0L1140.5 514.4L1143.0 515.0M1146.0 515.6L1148.5 516.2L1151.0 517.0M1154.0 517.9L1156.5 518.5L1159.0 518.9M1162.0 519.3L1164.5 519.6L1167.0 519.9M1170.0 520.1L1172.5 520.4L1175.0 520.6M1178.0 520.9L1180.5 521.1L1181.0 521.2" fill="none" stroke="#ff0000" stroke-width="1" shape-rendering="crispEdges"/>
<text transform="translate(7.23,414) scale(0.9411,1)" font-size="10" fill="#000" stroke="#000" stroke-width="0.15">MACD(12,26,9) 9.3488 8.2168</text>
<g shape-rendering="crispEdges">
<rect x="1200" y="403" width="1" height="1" fill="#000"/>
<rect x="1200" y="540" width="1" height="1" fill="#000"/>
<rect x="1200" y="563" width="1" height="1" fill="#000"/>
</g>
<text transform="translate(1202.64,412) scale(0.9063,1)" font-size="10" fill="#000" stroke="#000" stroke-width="0.15">58.1573</text>
<text transform="translate(1202.63,544) scale(0.9367,1)" font-size="10" fill="#000" stroke="#000" stroke-width="0.15">0.00</text>
<text transform="translate(1202.60,561) scale(0.9077,1)" font-size="10" fill="#000" stroke="#000" stroke-width="0.15">-9.9395</text>
<g shape-rendering="crispEdges">
<line x1="5" y1="599.5" x2="1199" y2="599.5" stroke="#c0c0c0" stroke-width="1" stroke-dasharray="3,3"/>
<line x1="5" y1="642.5" x2="1199" y2="642.5" stroke="#c0c0c0" stroke-width="1" stroke-dasharray="3,3"/>
</g>
<polyline points="4.5,603.3 12.5,600.3 20.5,599.5 28.5,599.5 36.5,603.3 44.5,607.7 52.5,606.5 60.5,609.5 68.5,607.2 76.5,605.3 84.5,604.0 92.5,600.3 100.5,597.0 108.5,600.3 116.5,591.6 124.5,599.0 132.5,600.3 140.5,611.5 148.5,617.2 156.5,613.5 164.5,613.5 172.5,618.2 180.5,614.2 188.5,615.2 196.5,613.5 204.5,614.5 212.5,610.2 220.5,612.2 228.5,613.5 236.5,611.5 244.5,617.2 252.5,617.2 260.5,613.5 268.5,613.5 276.5,623.4 284.5,620.2 292.5,622.2 300.5,617.7 308.5,614.5 316.5,616.4 324.5,612.0 332.5,610.2 340.5,605.8 348.5,605.3 356.5,604.0 364.5,602.8 372.5,603.0 380.5,607.7 388.5,604.5 396.5,609.2 404.5,609.2 412.5,611.5 420.5,611.5 428.5,608.2 436.5,611.5 444.5,614.5 452.5,617.2 460.5,610.2 468.5,612.0 476.5,619.7 484.5,629.4 492.5,630.6 500.5,628.4 508.5,630.6 516.5,630.6 524.5,622.2 532.5,631.6 540.5,628.4 548.5,626.4 556.5,619.4 564.5,623.2 572.5,623.4 580.5,631.4 588.5,626.4 596.5,623.2 604.5,621.5 612.5,620.4 620.5,621.4 628.5,619.4 636.5,612.7 644.5,609.2 652.5,612.5 660.5,611.2 668.5,606.5 676.5,602.3 684.5,599.5 692.5,599.3 700.5,600.8 708.5,607.2 716.5,611.2 724.5,610.2 732.5,607.2 740.5,608.5 748.5,606.5 756.5,610.2 764.5,612.5 772.5,617.2 780.5,616.2 788.5,616.2 796.5,612.5 804.5,609.5 812.5,606.5 820.5,609.5 828.5,607.5 836.5,618.2 844.5,624.2 852.5,620.4 860.5,626.4 868.5,619.4 876.5,612.5 884.5,607.5 892.5,607.2 900.5,605.3 908.5,604.3 916.5,602.3 924.5,609.2 932.5,614.2 940.5,612.5 948.5,611.5 956.5,611.2 964.5,606.5 972.5,606.5 980.5,605.3 988.5,607.2 996.5,608.5 1004.5,604.3 1012.5,603.3 1020.5,609.5 1028.5,608.2 1036.5,607.2 1044.5,605.3 1052.5,598.5 1060.5,597.0 1068.5,599.0 1076.5,594.8 1084.5,607.5 1092.5,604.5 1100.5,609.5 1108.5,606.5 1116.5,613.5 1124.5,615.5 1132.5,617.2 1140.5,617.2 1148.5,626.4 1156.5,612.2 1164.5,607.2 1172.5,605.3 1180.5,604.3" fill="none" stroke="#1e90ff" stroke-width="1" shape-rendering="crispEdges"/>
<text transform="translate(7.23,579) scale(0.9410,1)" font-size="10" fill="#000" stroke="#000" stroke-width="0.15">RSI(14) 65.1114</text>
<g shape-rendering="crispEdges">
<rect x="1200" y="568" width="1" height="1" fill="#000"/>
<rect x="1200" y="673" width="1" height="1" fill="#000"/>
</g>
<text transform="translate(1202.93,577) scale(0.8756,1)" font-size="10" fill="#000" stroke="#000" stroke-width="0.15">100</text>
<text transform="translate(1201.33,603) scale(0.9198,1)" font-size="10" fill="#000" stroke="#000" stroke-width="0.15">70</text>
<text transform="translate(1201.66,646) scale(0.8888,1)" font-size="10" fill="#000" stroke="#000" stroke-width="0.15">30</text>
<text transform="translate(1202.96,671) scale(0.8786,1)" font-size="10" fill="#000" stroke="#000" stroke-width="0.15">0</text>
<g shape-rendering="crispEdges">
<rect x="4" y="675" width="1" height="3" fill="#000"/>
<rect x="68" y="675" width="1" height="3" fill="#000"/>
<rect x="132" y="675" width="1" height="3" fill="#000"/>
<rect x="196" y="675" width="1" height="3" fill="#000"/>
<rect x="260" y="675" width="1" height="3" fill="#000"/>
<rect x="324" y="675" width="1" height="3" fill="#000"/>
<rect x="388" y="675" width="1" height="3" fill="#000"/>
<rect x="452" y="675" width="1" height="3" fill="#000"/>
<rect x="516" y="675" width="1" height="3" fill="#000"/>
<rect x="580" y="675" width="1" height="3" fill="#000"/>
<rect x="644" y="675" width="1" height="3" fill="#000"/>
<rect x="708" y="675" width="1" height="3" fill="#000"/>
<rect x="772" y="675" width="1" height="3" fill="#000"/>
<rect x="836" y="675" width="1" height="3" fill="#000"/>
<rect x="900" y="675" width="1" height="3" fill="#000"/>
<rect x="964" y="675" width="1" height="3" fill="#000"/>
<rect x="1028" y="675" width="1" height="3" fill="#000"/>
<rect x="1092" y="675" width="1" height="3" fill="#000"/>
<rect x="1156" y="675" width="1" height="3" fill="#000"/>
</g>
<text transform="translate(2.31,687) scale(0.9660,1)" font-size="10" fill="#000" stroke="#000" stroke-width="0.15">5 Nov 2020</text>
<text transform="translate(66.21,687) scale(0.9660,1)" font-size="10" fill="#000" stroke="#000" stroke-width="0.15">6 Nov 12:00</text>
<text transform="translate(130.25,687) scale(0.9660,1)" font-size="10" fill="#000" stroke="#000" stroke-width="0.15">9 Nov 16:00</text>
<text transform="translate(193.96,687) scale(0.9660,1)" font-size="10" fill="#000" stroke="#000" stroke-width="0.15">11 Nov 00:00</text>
<text transform="translate(257.96,687) scale(0.9660,1)" font-size="10" fill="#000" stroke="#000" stroke-width="0.15">12 Nov 08:00</text>
<text transform="translate(321.96,687) scale(0.9660,1)" font-size="10" fill="#000" stroke="#000" stroke-width="0.15">13 Nov 16:00</text>
<text transform="translate(385.96,687) scale(0.9660,1)" font-size="10" fill="#000" stroke="#000" stroke-width="0.15">16 Nov 20:00</text>
<text transform="translate(449.96,687) scale(0.9660,1)" font-size="10" fill="#000" stroke="#000" stroke-width="0.15">18 Nov 04:00</text>
<text transform="translate(513.96,687) scale(0.9660,1)" font-size="10" fill="#000" stroke="#000" stroke-width="0.15">19 Nov 12:00</text>
<text transform="translate(578.21,687) scale(0.9660,1)" font-size="10" fill="#000" stroke="#000" stroke-width="0.15">20 Nov 20:00</text>
<text transform="translate(642.21,687) scale(0.9660,1)" font-size="10" fill="#000" stroke="#000" stroke-width="0.15">24 Nov 00:00</text>
<text transform="translate(706.21,687) scale(0.9660,1)" font-size="10" fill="#000" stroke="#000" stroke-width="0.15">25 Nov 08:00</text>
<text transform="translate(770.21,687) scale(0.9660,1)" font-size="10" fill="#000" stroke="#000" stroke-width="0.15">26 Nov 16:00</text>
<text transform="translate(834.33,687) scale(0.9660,1)" font-size="10" fill="#000" stroke="#000" stroke-width="0.15">30 Nov 00:00</text>
<text transform="translate(897.96,687) scale(0.9660,1)" font-size="10" fill="#000" stroke="#000" stroke-width="0.15">1 Dec 08:00</text>
<text transform="translate(962.21,687) scale(0.9660,1)" font-size="10" fill="#000" stroke="#000" stroke-width="0.15">2 Dec 16:00</text>
<text transform="translate(1026.48,687) scale(0.9660,1)" font-size="10" fill="#000" stroke="#000" stroke-width="0.15">4 Dec 00:00</text>
<text transform="translate(1090.20,687) scale(0.9660,1)" font-size="10" fill="#000" stroke="#000" stroke-width="0.15">7 Dec 04:00</text>
<text transform="translate(1154.28,687) scale(0.9660,1)" font-size="10" fill="#000" stroke="#000" stroke-width="0.15">8 Dec 12:00</text>
<text x="890.5 928.5 966.5 1004.5 1042.5" y="247.6" font-size="37.6" fill="#ff0000" style="font-family:'Liberation Sans','Noto Sans CJK SC',sans-serif">多空转折点</text>
<text transform="translate(1080.45,247.8) scale(1.0063,1)" font-size="40.4" fill="#ff0000">3650</text></svg></body></html>
